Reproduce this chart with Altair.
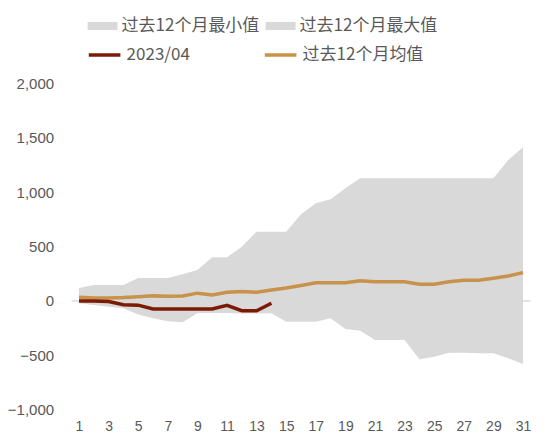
import altair as alt
import pandas as pd

days = [1, 2, 3, 4, 5, 6, 7, 8, 9, 10, 11, 12, 13, 14, 15, 16, 17, 18, 19, 20,
        21, 22, 23, 24, 25, 26, 27, 28, 29, 30, 31]
max_vals = [120, 147, 147, 147, 211, 211, 211, 245, 284, 401, 401, 498, 636, 636, 636,
            795, 896, 933, 1034, 1126, 1126, 1126, 1126, 1126, 1126, 1126, 1126, 1126,
            1126, 1294, 1410]
min_vals = [-21, -37, -52, -67, -125, -159, -186, -195, -112, -110, -110, -115, -115,
            -113, -190, -190, -190, -159, -257, -272, -358, -358, -358, -535, -511,
            -474, -474, -480, -480, -526, -578]
avg_vals = [35, 28, 28, 32, 40, 47, 44, 46, 72, 56, 80, 86, 80, 101, 119, 143, 168,
            168, 168, 186, 177, 177, 177, 153, 153, 177, 190, 190, 208, 229, 260]
cur_days = [1, 2, 3, 4, 5, 6, 7, 8, 9, 10, 11, 12, 13, 14]
cur_vals = [0, 0, -5, -35, -38, -73, -73, -73, -73, -73, -40, -89, -89, -21]

x_ticks = [1, 3, 5, 7, 9, 11, 13, 15, 17, 19, 21, 23, 25, 27, 29, 31]
y_ticks = [-1000, -500, 0, 500, 1000, 1500, 2000]

S_MIN = "过去12个月最小值"
S_MAX = "过去12个月最大值"
S_CUR = "2023/04"
S_AVG = "过去12个月均值"

band = pd.DataFrame(
    {"day": days * 2,
     "value": max_vals + min_vals,
     "series": [S_MAX] * len(days) + [S_MIN] * len(days)}
)
lines = pd.DataFrame(
    {"day": days + cur_days,
     "value": avg_vals + cur_vals,
     "series": [S_AVG] * len(days) + [S_CUR] * len(cur_days)}
)

GRAY = "#595959"
x_scale = alt.Scale(domain=[0.5, 31.5], nice=False, zero=False)
y_scale = alt.Scale(domain=[-1000, 2000], nice=False, zero=False)

x_axis = alt.Axis(values=x_ticks, title=None, domain=False, ticks=False,
                  grid=False, labelFontSize=14, labelColor=GRAY,
                  labelFont="Liberation Sans", labelPadding=10,
                  labelFlush=False, labelOverlap=False, format="d")
y_axis = alt.Axis(values=y_ticks, title=None, domain=False, ticks=False,
                  grid=False, format=",.0f", labelFontSize=15,
                  labelColor=GRAY, labelFont="Liberation Sans",
                  labelPadding=18)

base = pd.DataFrame({"day": [0.5, 31.5], "value": [0, 0]})
zero_rule = alt.Chart(base).mark_line(
    color="#C8C8C8", strokeWidth=1
).encode(
    x=alt.X("day:Q", scale=x_scale, axis=x_axis),
    y=alt.Y("value:Q", scale=y_scale, axis=y_axis),
)

areas = alt.Chart(band).mark_area(opacity=1).encode(
    x=alt.X("day:Q", scale=x_scale, axis=x_axis),
    y=alt.Y("value:Q", scale=y_scale, axis=y_axis),
    y2=alt.datum(0),
    fill=alt.Fill(
        "series:N",
        scale=alt.Scale(domain=[S_MIN, S_MAX], range=["#D9D9D9", "#D9D9D9"]),
        legend=alt.Legend(
            title=None, orient="none", legendX=16, legendY=-72,
            direction="horizontal", columns=2, columnPadding=6,
            symbolType="M-1,-0.27H1V0.27H-1Z", symbolSize=900,
            symbolStrokeWidth=0, labelOffset=4, labelFontSize=17,
            labelFontWeight="normal",
            labelColor=GRAY, labelFont="Noto Sans CJK SC", padding=0,
            labelLimit=300,
        ),
    ),
    detail="series:N",
)

stroke_enc = alt.Stroke(
    "series:N",
    scale=alt.Scale(domain=[S_CUR, S_AVG], range=["#7B1A05", "#C8924A"]),
    legend=alt.Legend(
        title=None, orient="none", legendX=15, legendY=-46,
        direction="horizontal", columns=2, columnPadding=67,
        symbolType="stroke", symbolSize=1000, symbolStrokeWidth=3.5,
        labelOffset=4, labelFontSize=17, labelColor=GRAY,
        labelFontWeight="normal",
        labelFont="Noto Sans CJK SC", padding=0, labelLimit=300,
    ),
)

line_chart = alt.Chart(lines).mark_line(strokeWidth=3.5).encode(
    x=alt.X("day:Q", scale=x_scale, axis=x_axis),
    y=alt.Y("value:Q", scale=y_scale, axis=y_axis),
    stroke=stroke_enc,
    detail="series:N",
)

avg_line = line_chart.transform_filter(alt.datum.series == S_AVG)
cur_line = line_chart.transform_filter(alt.datum.series == S_CUR)

chart = alt.layer(zero_rule, areas, avg_line, cur_line).properties(
    width=458.8,
    height=327,
    background="white",
    autosize=alt.AutoSizeParams(type="none"),
    padding={"left": 63.6, "top": 75, "right": 10, "bottom": 28},
).configure_view(strokeWidth=0, stroke="transparent").configure_axis(
    domain=False, ticks=False, grid=False
)

chart.save("out.html", embed_options={"renderer": "svg", "actions": False})
